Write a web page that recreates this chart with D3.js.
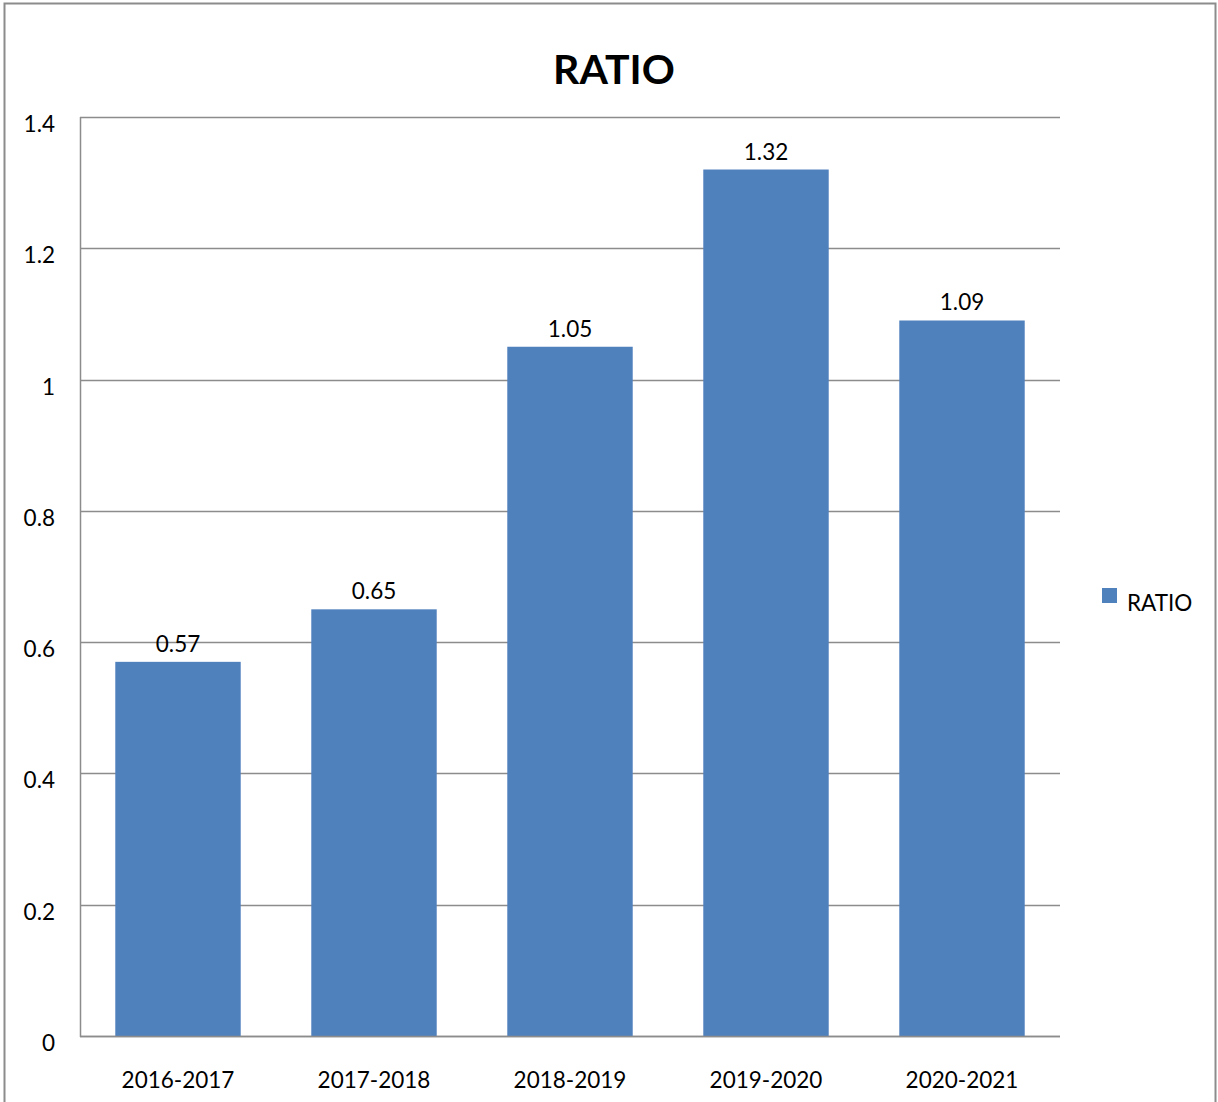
<!DOCTYPE html>
<html><head><meta charset="utf-8">
<script src="https://cdn.jsdelivr.net/npm/d3@7"></script>
<style>body{margin:0;background:#fff}svg{display:block}text{font-family:Lato,"Open Sans",sans-serif}</style>
</head><body>
<script>
const categories = ["2016-2017","2017-2018","2018-2019","2019-2020","2020-2021"];
const values = [0.57,0.65,1.05,1.32,1.09];
const yTicks = [0,0.2,0.4,0.6,0.8,1,1.2,1.4];
const seriesName = "RATIO";
const title = "RATIO";

const W=1218,H=1102;
const FS=22.5;
const svg=d3.select("body").append("svg").attr("width",W).attr("height",H);
svg.append("rect").attr("x",4.5).attr("y",3.5).attr("width",1211).attr("height",1120)
  .attr("fill","#fff").attr("stroke","#8c8c8c").attr("stroke-width",2);

const L=80,R=1060,T=117,B=1036;
const x=d3.scaleBand().domain(categories).range([L,R]).paddingInner(0.36).paddingOuter(0.18);
const y=d3.scaleLinear().domain([0,1.4]).range([B,T]);

// gridlines
svg.append("g").selectAll("line").data(yTicks).join("line")
  .attr("x1",L).attr("x2",R).attr("y1",d=>Math.round(y(d))+0.5).attr("y2",d=>Math.round(y(d))+0.5)
  .attr("stroke","#8c8c8c").attr("stroke-width",1.5);
// y axis line
svg.append("line").attr("x1",L+0.5).attr("x2",L+0.5).attr("y1",T).attr("y2",B+1)
  .attr("stroke","#8c8c8c").attr("stroke-width",1.5);

// bars
svg.append("g").selectAll("rect").data(values).join("rect")
  .attr("x",(d,i)=>x(categories[i])).attr("width",x.bandwidth())
  .attr("y",d=>y(d)).attr("height",d=>B-y(d)).attr("fill","#4F81BD");
// baseline on top
svg.append("line").attr("x1",L).attr("x2",R).attr("y1",B+0.5).attr("y2",B+0.5)
  .attr("stroke","#8c8c8c").attr("stroke-width",1.5);

// value labels
svg.append("g").selectAll("text").data(values).join("text")
  .attr("x",(d,i)=>x(categories[i])+x.bandwidth()/2).attr("y",d=>y(d)-10)
  .attr("text-anchor","middle").attr("font-size",FS).attr("fill","#000")
  .text(d=>d3.format(".2f")(d));

// y tick labels
svg.append("g").selectAll("text").data(yTicks).join("text")
  .attr("x",55).attr("y",d=>y(d)+15).attr("text-anchor","end").attr("font-size",FS)
  .text(d=>String(d));

// x labels
svg.append("g").selectAll("text").data(categories).join("text")
  .attr("x",d=>x(d)+x.bandwidth()/2).attr("y",1088).attr("text-anchor","middle").attr("font-size",FS)
  .text(d=>d);

// title
svg.append("text").attr("x",614).attr("y",84).attr("text-anchor","middle")
  .attr("font-size",41).attr("font-weight","bold").text(title);

// legend
svg.append("rect").attr("x",1102).attr("y",588).attr("width",15).attr("height",15).attr("fill","#4F81BD");
svg.append("text").attr("x",1127).attr("y",611).attr("font-size",FS).text(seriesName);
</script>
</body></html>
